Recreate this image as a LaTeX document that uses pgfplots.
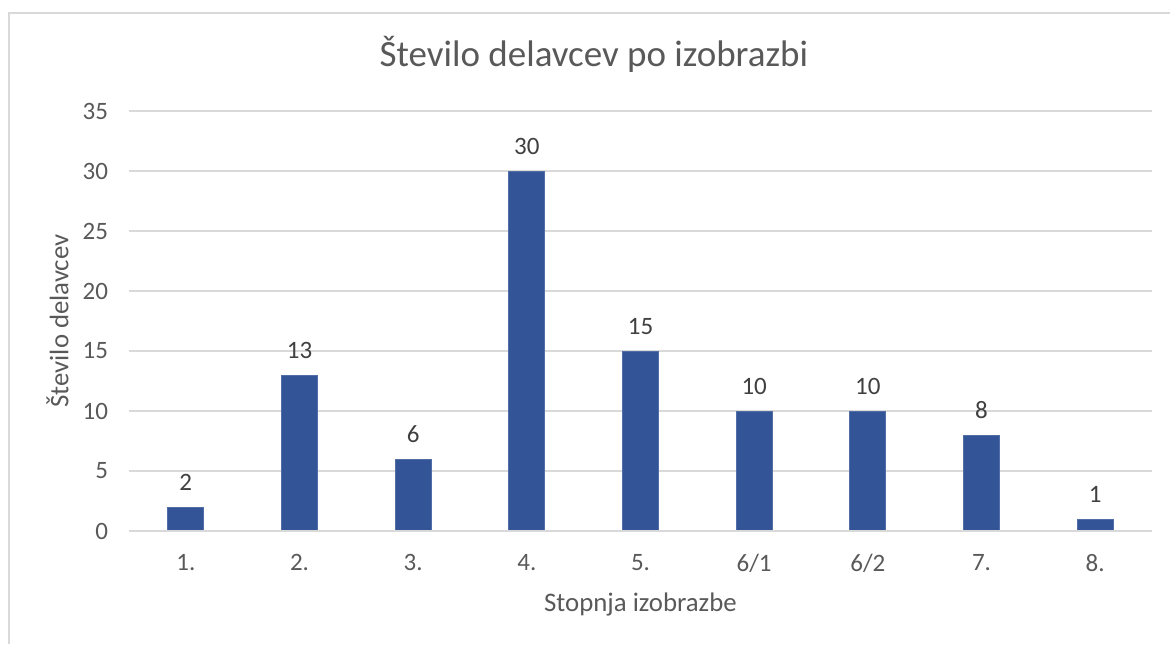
\documentclass[border=0pt]{standalone}
\usepackage{fontspec}
\setmainfont{Carlito}
\usepackage{pgfplots}
\pgfplotsset{compat=1.18}
\definecolor{barblue}{RGB}{51,84,150}
\definecolor{txtgray}{RGB}{89,89,89}
\definecolor{gridgray}{RGB}{217,217,217}
\begin{document}
\begin{tikzpicture}
\begin{axis}[
  at={(0,0)}, anchor=south west,
  width=511.5pt, height=210pt, scale only axis,
  xmin=-0.5, xmax=8.5, ymin=0, ymax=35,
  ytick={0,5,...,35},
  xtick={0,...,8},
  xticklabels={1.,2.,3.,4.,5.,6/1,6/2,7.,8.},
  axis line style={draw=none},
  axis x line*=bottom,
  major tick length=0pt,
  ymajorgrids, grid style={gridgray, line width=0.75pt},
  /pgf/number format/assume math mode=true,
  tick label style={font=\fontsize{12.5}{15}\selectfont, text=txtgray},
  yticklabel style={xshift=-7pt},
  xticklabel style={yshift=-8pt},
  xlabel={Stopnja izobrazbe},
  ylabel={Število delavcev},
  label style={font=\fontsize{13.4}{16}\selectfont, text=txtgray},
  xlabel style={at={(axis description cs:0.5,-0.1738)}, anchor=center},
  ylabel style={at={(axis description cs:-0.0699,0.5)}, anchor=center},
  title={Število delavcev po izobrazbi},
  title style={at={(axis description cs:0.4545,1.107)}, anchor=center, font=\fontsize{18.5}{22}\selectfont, text=txtgray},
  nodes near coords,
  nodes near coords style={font=\fontsize{12.5}{15}\selectfont, text=black!75, anchor=south, inner sep=0pt, yshift=8pt},
  clip=false,
]
\addplot[ybar, bar width=18pt, fill=barblue, draw=barblue!85!white, line width=0.4pt] coordinates {
(0,2) (1,13) (2,6) (3,30) (4,15) (5,10) (6,10) (7,8) (8,1)
};
\draw[gridgray, line width=0.9pt] (axis cs:-0.5,0) -- (axis cs:8.5,0);
\end{axis}
\draw[gridgray, line width=0.7pt] (-60pt,-56.5pt) -- (-60pt,259pt) -- (520.5pt,259pt);
\pgfresetboundingbox
\path (-64.5pt,-56.5pt) rectangle (520.5pt,265.5pt);
\end{tikzpicture}
\end{document}
